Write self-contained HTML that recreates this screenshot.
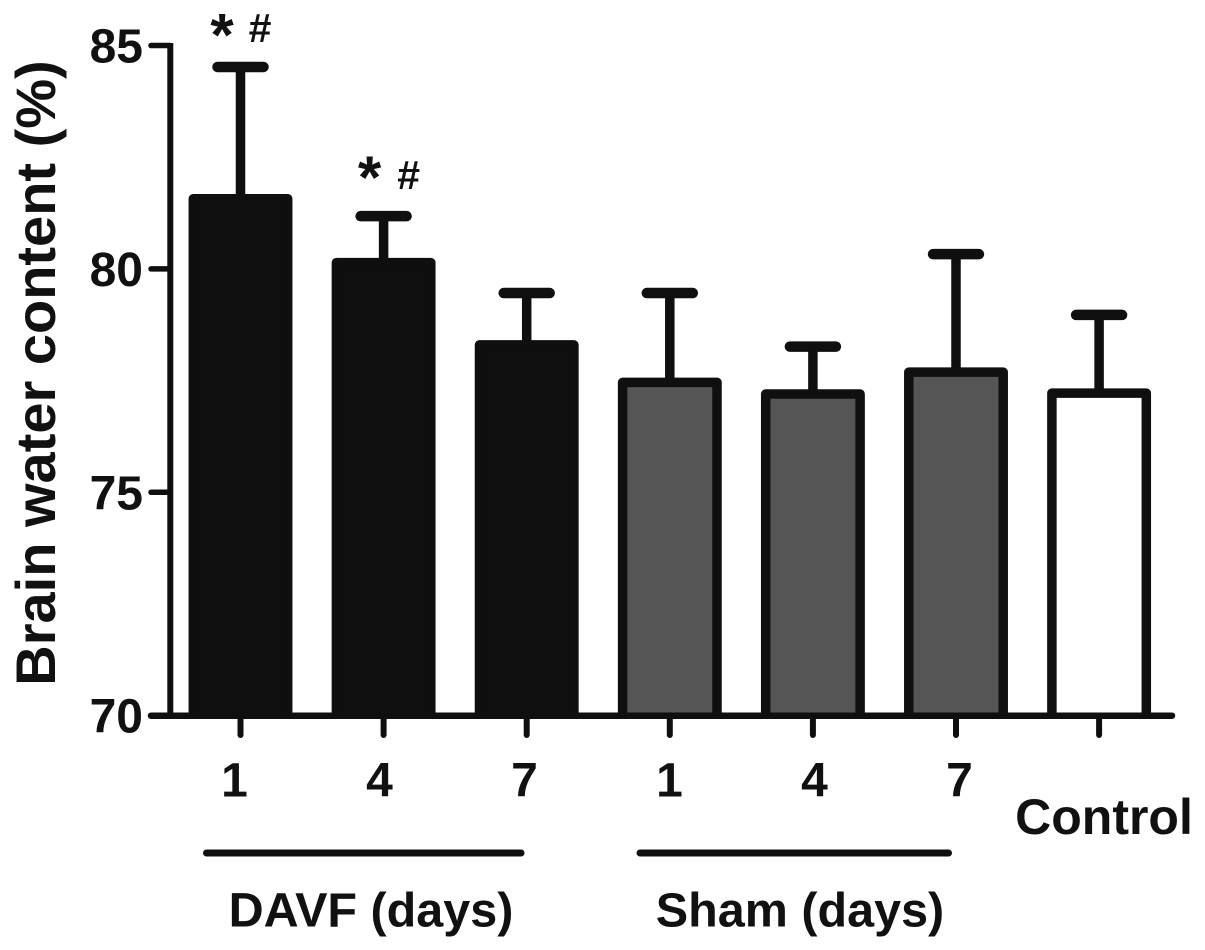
<!DOCTYPE html>
<html>
<head>
<meta charset="utf-8">
<style>
html,body{margin:0;padding:0;background:#fff;}
svg{display:block;}
text{font-family:"Liberation Sans",sans-serif;font-weight:bold;fill:#111;}
</style>
</head>
<body>
<svg id="chart" width="1205" height="950" viewBox="0 0 1205 950" xmlns="http://www.w3.org/2000/svg"></svg>
<script>
var categories = ['1', '4', '7', '1', '4', '7', ''];
var groups = ['davf', 'davf', 'davf', 'sham', 'sham', 'sham', 'control'];
var means = [81.57, 80.14, 78.3, 77.46, 77.2, 77.69, 77.22];
var errors = [2.95, 1.04, 1.16, 2.0, 1.06, 2.64, 1.75];
var yTicks = [70, 75, 80, 85];
var starMarkers = ['*', '*', '', '', '', '', ''];
var hashMarkers = ['#', '#', '', '', '', '', ''];

var svg = document.getElementById('chart');
var NS = 'http://www.w3.org/2000/svg';
var fills = {davf: '#0f0f0f', sham: '#555555', control: '#ffffff'};
var INK = '#0f0f0f';

function yScale(v) { return 715.7 - (v - 70) * 44.68; }
function xScale(i) { return 240.5 + i * 143.1; }
function labelX(i) { return 234.5 + i * 145; }

function add(tag, attrs, text) {
  var el = document.createElementNS(NS, tag);
  for (var k in attrs) el.setAttribute(k, attrs[k]);
  if (text !== undefined) el.textContent = text;
  svg.appendChild(el);
  return el;
}

var i, el, x, whiskerY, barY, barBase, barPath;
for (i = 0; i < means.length; i++) {
  x = xScale(i);
  whiskerY = yScale(means[i] + errors[i]);
  barY = yScale(means[i]);
  barBase = yScale(70) + 3;
  el = add('line', {x1: x, x2: x, y1: whiskerY, y2: barY, stroke: INK, 'stroke-width': 9.5});
  
  
  el = add('line', {x1: x - 23, x2: x + 23, y1: whiskerY, y2: whiskerY, stroke: INK, 'stroke-width': 10.5, 'stroke-linecap': 'round'});
  
  
  barPath = 'M' + (x - 47.2) + ' ' + barBase + ' L' + (x - 47.2) + ' ' + barY + ' L' + (x + 47.2) + ' ' + barY + ' L' + (x + 47.2) + ' ' + barBase;
  el = add('path', {d: barPath, fill: fills[groups[i]], stroke: INK, 'stroke-width': 9.5, 'stroke-linejoin': 'round'});
  
  
  el = add('line', {x1: x, x2: x, y1: 716, y2: 735, stroke: INK, 'stroke-width': 6, 'stroke-linecap': 'round'});
  
  
  if (categories[i]) {
    el = add('text', {x: labelX(i), y: 796.5, 'font-size': 48, 'text-anchor': 'middle'}, categories[i]);
    
    
  }
  if (starMarkers[i]) {
    el = add('text', {x: x - 18.5 + 4.5 * i, y: whiskerY - 11.5 - 6.5 * i, 'font-size': 60, 'text-anchor': 'middle'}, starMarkers[i]);
    
    
  }
  if (hashMarkers[i]) {
    el = add('text', {x: x + 19.5 + 5.5 * i, y: whiskerY - 25 - 2 * i, 'font-size': 41, 'text-anchor': 'middle'}, hashMarkers[i]);
    
    
  }
}

el = add('line', {x1: 170.3, x2: 170.3, y1: 43, y2: 718, stroke: INK, 'stroke-width': 6});


el = add('line', {x1: 151, x2: 1172, y1: 715.7, y2: 715.7, stroke: INK, 'stroke-width': 6.5, 'stroke-linecap': 'round'});



var ty;
for (i = 0; i < yTicks.length; i++) {
  ty = yScale(yTicks[i]);
  el = add('line', {x1: 151, x2: 170, y1: ty, y2: ty, stroke: INK, 'stroke-width': 5.5, 'stroke-linecap': 'round'});
  
  
  el = add('text', {x: 143, y: ty + 17, 'font-size': 48, 'text-anchor': 'end'}, String(yTicks[i]));
  
  
}

el = add('text', {x: 55, y: 373, 'font-size': 56, 'text-anchor': 'middle', transform: 'rotate(-90 55 373)'}, 'Brain water content (%)');


el = add('text', {x: 1104, y: 834, 'font-size': 50, 'text-anchor': 'middle'}, 'Control');


el = add('line', {x1: 206.5, x2: 521, y1: 853, y2: 853, stroke: INK, 'stroke-width': 7, 'stroke-linecap': 'round'});


el = add('line', {x1: 640, x2: 948.5, y1: 853, y2: 853, stroke: INK, 'stroke-width': 7, 'stroke-linecap': 'round'});


el = add('text', {x: 371, y: 926.5, 'font-size': 48.5, 'text-anchor': 'middle'}, 'DAVF (days)');


el = add('text', {x: 800, y: 926.5, 'font-size': 48.5, 'text-anchor': 'middle'}, 'Sham (days)');


</script>
</body>
</html>
